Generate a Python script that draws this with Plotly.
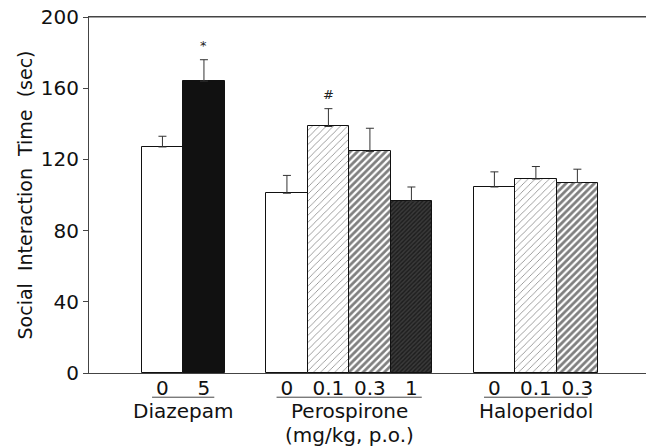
import plotly.graph_objects as go

# ---- data ----
groups = ["Diazepam", "Perospirone", "Haloperidol"]
doses = [["0", "5"], ["0", "0.1", "0.3", "1"], ["0", "0.1", "0.3"]]
means = [[127, 164], [101, 138.5, 124.5, 96.5], [104.5, 109, 107]]
sems = [[6, 12], [10, 10, 13, 8], [8.5, 7, 7.5]]
marks = [["", "*"], ["", "#", "", ""], ["", "", ""]]
y_ticks = [0, 40, 80, 120, 160, 200]

FAMILY = "DejaVu Sans, Liberation Sans, sans-serif"

style_light = dict(shape="/", fgcolor="black", bgcolor="white", size=5, solidity=0.15)
style_bold = dict(shape="/", fgcolor="black", bgcolor="white", size=5, solidity=0.55)
style_dense = dict(shape="/", fgcolor="black", bgcolor="#3a3a3a", size=3, solidity=0.45)
bar_styles = [
    [("white", None), ("#111", None)],
    [("white", None), ("white", style_light), ("white", style_bold), ("#333", style_dense)],
    [("white", None), ("white", style_light), ("white", style_bold)],
]

xs, ys, es, labels, colors, patterns, texts = [], [], [], [], [], [], []
group_spans = []
pos = 0
for gi, g in enumerate(groups):
    start = pos
    for di, d in enumerate(doses[gi]):
        xs.append(pos)
        ys.append(means[gi][di])
        es.append(sems[gi][di])
        labels.append(d)
        c, p = bar_styles[gi][di]
        colors.append(c)
        patterns.append(p if p else dict(shape=""))
        texts.append(marks[gi][di])
        pos += 1
    group_spans.append((start, pos - 1))
    pos += 1

fig = go.Figure()
for i in range(len(xs)):
    fig.add_trace(go.Bar(
        x=[xs[i]], y=[ys[i]], width=1.0,
        marker=dict(color=colors[i], line=dict(color="#111", width=1), pattern=patterns[i]),
        error_y=dict(type="data", symmetric=False, array=[es[i]], arrayminus=[0],
                     color="#333", thickness=1, width=4),
        showlegend=False,
    ))
    if texts[i]:
        fig.add_annotation(x=xs[i], y=ys[i] + es[i], text=texts[i], showarrow=False,
                           yanchor="bottom", yshift=5,
                           font=dict(family=FAMILY, size=13, color="#222"))

txt_font = dict(family=FAMILY, size=20, color="#111")

for gi, (a, b) in enumerate(group_spans):
    fig.add_shape(type="line", xref="x", yref="paper", x0=a - 0.25, x1=b + 0.25,
                  y0=-0.068, y1=-0.068, line=dict(color="#444", width=1))
    fig.add_annotation(x=(a + b) / 2, xref="x", y=-0.107, yref="paper", text=groups[gi],
                       showarrow=False, yanchor="middle", font=txt_font)
fig.add_annotation(x=(group_spans[1][0] + group_spans[1][1]) / 2, xref="x", y=-0.175,
                   yref="paper", text="(mg/kg, p.o.)", showarrow=False, yanchor="middle",
                   font=txt_font)

# top border of the frame
fig.add_shape(type="line", xref="paper", yref="paper", x0=0, x1=1, y0=1, y1=1,
              line=dict(color="#444", width=1))

# page body has an 8px margin: compensate so the plot lands where the reference has it
fig.update_layout(
    width=646, height=439,
    margin=dict(l=81, r=4, t=9, b=73.5),
    paper_bgcolor="white", plot_bgcolor="white",
    bargap=0, font=txt_font,
)
fig.update_xaxes(range=[-1.77, 11.75], tickmode="array", tickvals=xs, ticktext=labels,
                 showline=True, linecolor="#444", linewidth=1, mirror=True, automargin=False,
                 ticks="", showgrid=False, zeroline=False, tickfont=txt_font,
                 ticklabelstandoff=-3)
fig.update_yaxes(range=[0, 200], tickvals=y_ticks, showline=True, linecolor="#444",
                 linewidth=1, mirror=True, ticks="outside", ticklen=5, tickcolor="#444",
                 automargin=False, showgrid=False, zeroline=False, ticklabeloverflow="allow",
                 tickfont=dict(family=FAMILY, size=20, color="#111"),
                 title=dict(text="Social  Interaction  Time  (sec)",
                            font=dict(family=FAMILY, size=19, color="#111"), standoff=3))

fig.write_html("out.html")
